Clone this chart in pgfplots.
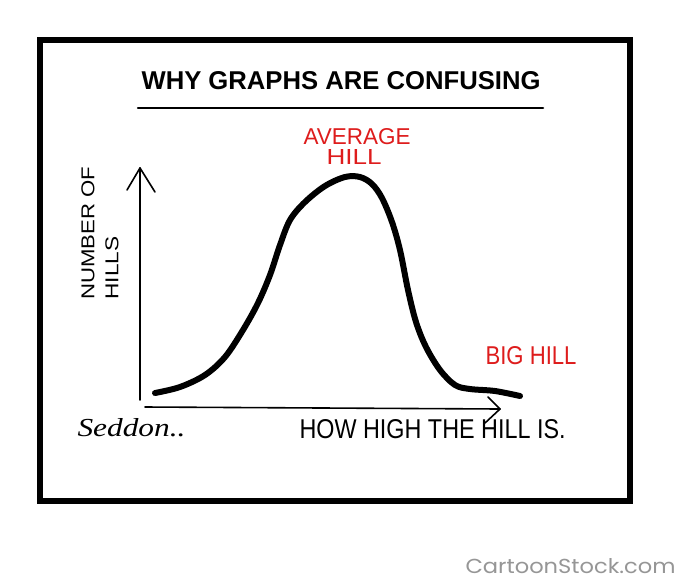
\documentclass[border=0pt]{standalone}
\usepackage{pgfplots}
\pgfplotsset{compat=1.18}
\usepackage{graphicx}
\usepackage{fontspec}
\setmainfont{Liberation Sans}
\newfontfamily\wm{Poppins}
\newfontfamily\sig{Liberation Serif}
\definecolor{hred}{RGB}{222,28,28}
\definecolor{wmgray}{RGB}{150,150,150}
\begin{document}
\begin{tikzpicture}
\path[use as bounding box, fill=white] (0,0) rectangle (680pt,582pt);
\begin{axis}[
  at={(0,0)}, anchor=south west,
  width=680pt, height=582pt, scale only axis,
  xmin=0, xmax=680, ymin=0, ymax=582, y dir=reverse,
  axis lines=none, clip=false,
  every node/.style={inner sep=0pt, outer sep=0pt}
]
% frame
\draw[line width=6pt] (axis cs:40,40) rectangle (axis cs:630,501);
% title and underline
\node[anchor=south west] at (axis cs:138,93) {\resizebox{399pt}{18pt}{\bfseries WHY GRAPHS ARE CONFUSING}};
\addplot[line width=2.5pt, line cap=round] coordinates {(138,108) (543,108)};
% axes
\addplot[line width=1.6pt, line cap=round] coordinates {(140,400) (140,168)};
\addplot[line width=1.6pt, line cap=round, line join=round] coordinates {(127,190) (140,168) (155,192)};
\addplot[line width=1.6pt, line cap=round] coordinates {(145,407) (500,409)};
\addplot[line width=1.6pt, line cap=round, line join=round] coordinates {(488,397) (500,409) (485,423)};
% curve
\addplot[line width=6pt, line cap=round, smooth, tension=0.55] coordinates {
(155,393) (180,387) (205,375) (225,357) (243,330) (258,303) (270,275)
(280,245) (290,220) (305,202) (325,186) (345,177) (360,177) (372,184)
(382,198) (392,222) (400,250) (408,290) (416,322) (426,347) (440,370)
(455,385) (470,389) (495,391) (520,396)};
% red labels
\node[anchor=south west, text=hred] at (axis cs:300,148) {\resizebox{107pt}{16pt}{AVERAGE}};
\node[anchor=south west, text=hred] at (axis cs:323,168) {\resizebox{55pt}{15pt}{HILL}};
\node[anchor=south west, text=hred] at (axis cs:482,368) {\resizebox{91pt}{18pt}{BIG HILL}};
% y label
\node[anchor=south west, rotate=90] at (axis cs:98,303) {\resizebox{133pt}{13pt}{NUMBER OF}};
\node[anchor=south west, rotate=90] at (axis cs:122,303) {\resizebox{63pt}{13pt}{HILLS}};
% x label
\node[anchor=south west] at (axis cs:296,442) {\resizebox{266pt}{19pt}{HOW HIGH THE HILL IS.}};
% signature
\node[anchor=south west] at (axis cs:74,440) {\resizebox{108pt}{18pt}{\sig\itshape Seddon..}};
% watermark
\node[anchor=south west, text=wmgray] at (axis cs:462,577) {\resizebox{210pt}{15pt}{\wm CartoonStock.com}};
\end{axis}
\end{tikzpicture}
\end{document}
